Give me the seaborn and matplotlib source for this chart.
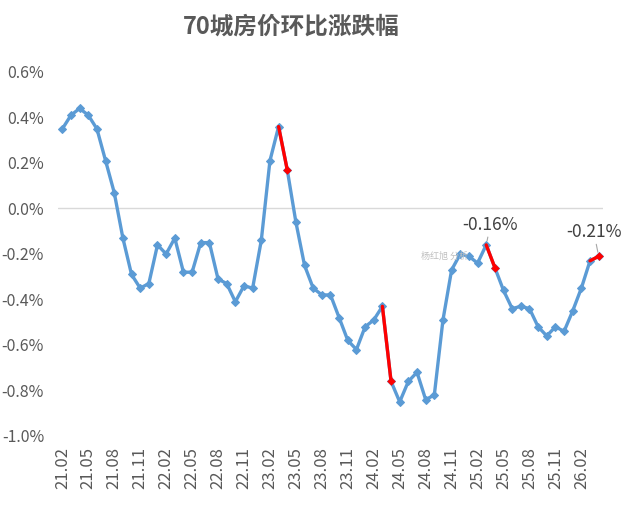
import matplotlib
matplotlib.use('Agg')
import matplotlib.pyplot as plt
import seaborn as sns
import pandas as pd

# ---- data ----
months = [f"{y:02d}.{m:02d}" for y in range(21, 27) for m in range(1, 13)]
months = months[months.index("21.02"):months.index("26.04") + 1]
values = [0.35, 0.41, 0.44, 0.41, 0.35, 0.21, 0.07, -0.13, -0.29, -0.35,
          -0.33, -0.16, -0.20, -0.13, -0.28, -0.28, -0.15, -0.15, -0.31, -0.33,
          -0.41, -0.34, -0.35, -0.14, 0.21, 0.36, 0.17, -0.06, -0.25, -0.35,
          -0.38, -0.38, -0.48, -0.58, -0.62, -0.52, -0.49, -0.43, -0.76, -0.85,
          -0.76, -0.72, -0.84, -0.82, -0.49, -0.27, -0.20, -0.21, -0.24, -0.16,
          -0.26, -0.36, -0.44, -0.43, -0.44, -0.52, -0.56, -0.52, -0.54, -0.45,
          -0.35, -0.23, -0.21]
red_starts = ["23.03", "24.03", "25.03", "26.03"]
labelled = ["25.03", "26.04"]
title = "70城房价环比涨跌幅"
watermark = "杨红旭 分析"

df = pd.DataFrame({"month": months, "value": values})
df["idx"] = range(len(df))

sns.set_theme(style="white")
plt.rcParams['font.family'] = ['Noto Sans CJK SC', 'DejaVu Sans']

W, H = 625, 518
fig = plt.figure(figsize=(W / 100, H / 100), dpi=100)
ax = fig.add_axes([58 / W, 1 - 436 / H, (603 - 58) / W, (436 - 72) / H])

blue = "#5B9BD5"
ax.axhline(0, color="#D9D9D9", lw=1, zorder=0)
sns.lineplot(data=df, x="idx", y="value", color=blue, lw=2.4, marker="D",
             markersize=3.6, markeredgecolor=blue, ax=ax, zorder=2)

ends = []
for m in red_starts:
    i = months.index(m)
    seg = df.iloc[i:i + 2]
    sns.lineplot(data=seg, x="idx", y="value", color="#FF0000", lw=2.4, ax=ax, zorder=3)
    ends.append(i + 1)
sns.scatterplot(data=df.iloc[ends], x="idx", y="value", marker="D", color="#FF0000",
                s=16, edgecolor="#FF0000", ax=ax, zorder=4)

offsets = {"25.03": (3, 8), "26.04": (-3.5, 11)}
for m in labelled:
    i = months.index(m)
    v = values[i]
    ax.annotate(f"{v:.2f}%", xy=(i, v), xytext=offsets[m], textcoords="offset points",
                ha="center", va="bottom", fontsize=12.5, color="#404040",
                arrowprops=dict(arrowstyle="-", color="#A6A6A6", lw=0.8,
                                shrinkA=0, shrinkB=3))

ax.set_xlim(-0.5, len(df) - 0.5)
ax.set_ylim(-1.0, 0.6)
yt = [0.6, 0.4, 0.2, 0.0, -0.2, -0.4, -0.6, -0.8, -1.0]
ax.set_yticks(yt)
ax.set_yticklabels([f"{t:.1f}%" for t in yt])
tick_idx = list(range(0, 61, 3))
ax.set_xticks(tick_idx)
ax.set_xticklabels([months[i] for i in tick_idx], rotation=90)
ax.tick_params(axis="both", length=0, labelcolor="#595959")
ax.tick_params(axis="y", pad=10, labelsize=11.5)
ax.tick_params(axis="x", pad=8, labelsize=12)
ax.set_xlabel("")
ax.set_ylabel("")
for s in ax.spines.values():
    s.set_visible(False)
if ax.get_legend():
    ax.get_legend().remove()

fig.text(291 / W, 1 - 27 / H, title, ha="center", va="center", fontsize=17,
         fontweight="bold", color="#595959")
fig.text(421 / W, 1 - 256 / H, watermark, ha="left", va="center", fontsize=6.5,
         color="#BFBFBF")

fig.savefig("out.png", dpi=100)
